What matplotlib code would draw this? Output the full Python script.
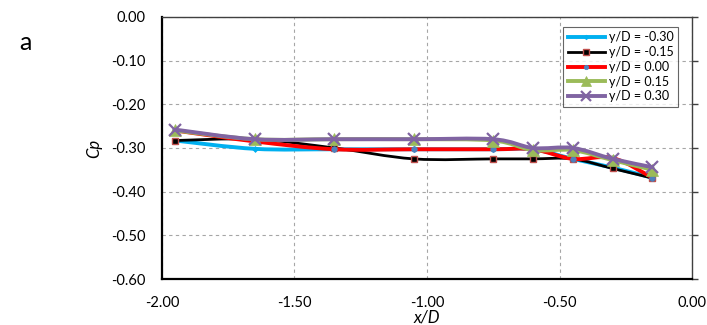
import numpy as np
import matplotlib
matplotlib.use("Agg")
import matplotlib.pyplot as plt
from matplotlib.path import Path
from matplotlib.patches import PathPatch
from matplotlib.lines import Line2D

plt.rcParams['font.family'] = ['Lato', 'DejaVu Sans']

# x/D stations
x_d = [-1.95, -1.65, -1.35, -1.05, -0.75, -0.60, -0.45, -0.30, -0.15]

# Cp for each y/D line
cp_m030 = [-0.283, -0.302, -0.303, -0.303, -0.303, -0.303, -0.325, -0.345, -0.368]
cp_m015 = [-0.283, -0.280, -0.300, -0.325, -0.325, -0.325, -0.325, -0.347, -0.369]
cp_000 = [-0.260, -0.285, -0.303, -0.303, -0.303, -0.303, -0.325, -0.323, -0.368]
cp_015 = [-0.260, -0.280, -0.280, -0.280, -0.283, -0.305, -0.305, -0.328, -0.350]
cp_030 = [-0.258, -0.280, -0.280, -0.280, -0.280, -0.300, -0.300, -0.325, -0.344]

labels = ['y/D = -0.30', 'y/D = -0.15', 'y/D = 0.00', 'y/D = 0.15', 'y/D = 0.30']
x_ticks = [-2.0, -1.5, -1.0, -0.5, 0.0]
y_ticks = [0.0, -0.1, -0.2, -0.3, -0.4, -0.5, -0.6]


def smooth_path(xs, ys):
    # excel-like smoothed line: catmull-rom turned into cubic bezier segments
    pts = np.column_stack([xs, ys])
    verts = [pts[0]]
    codes = [Path.MOVETO]
    n = len(pts)
    for i in range(n - 1):
        p0 = pts[i - 1] if i > 0 else pts[i]
        p1 = pts[i]
        p2 = pts[i + 1]
        p3 = pts[i + 2] if i + 2 < n else pts[i + 1]
        c1 = p1 + (p2 - p0) / 6.0
        c2 = p2 - (p3 - p1) / 6.0
        verts += [c1, c2, p2]
        codes += [Path.CURVE4] * 3
    return Path(verts, codes)


styles = [
    dict(color='#00B0F0', marker='D', ms=3, mfc='#00B0F0', mec='#00B0F0', mew=0.5),
    dict(color='#000000', marker='s', ms=5, mfc='#000000', mec='#C0504D', mew=1.0),
    dict(color='#FF0000', marker='o', ms=4, mfc='#4F81BD', mec='#4F81BD', mew=0.5),
    dict(color='#9BBB59', marker='^', ms=9, mfc='#9BBB59', mec='#9BBB59', mew=0.5),
    dict(color='#8064A2', marker='x', ms=9, mfc='#8064A2', mec='#8064A2', mew=1.6),
]
series = [cp_m030, cp_m015, cp_000, cp_015, cp_030]

fig = plt.figure(figsize=(7.07, 3.25), dpi=100)
ax = fig.add_axes([0.229, 0.1415, 0.750, 0.8065])

handles = []
for k, (vals, st) in enumerate(zip(series, styles)):
    lw = 2.0 if k == 1 else 2.8
    patch = PathPatch(smooth_path(x_d, vals), facecolor='none', edgecolor=st['color'],
                      lw=lw, zorder=2 + k, capstyle='round', joinstyle='round')
    ax.add_patch(patch)
    ax.plot(x_d, vals, ls='none', marker=st['marker'], ms=st['ms'], mfc=st['mfc'],
            mec=st['mec'], mew=st['mew'], zorder=2.5 + k)
    handles.append(Line2D([], [], color=st['color'], lw=lw, marker=st['marker'],
                          ms=st['ms'] * 0.8, mfc=st['mfc'], mec=st['mec'], mew=st['mew']))

ax.set_xlim(-2.0, 0.0)
ax.set_ylim(-0.6, 0.0)
ax.set_xticks(x_ticks)
ax.set_yticks(y_ticks)
ax.set_xticklabels(['%.2f' % v for v in x_ticks], fontsize=10.5)
ax.set_yticklabels(['%.2f' % v for v in y_ticks], fontsize=10.5)
ax.tick_params(axis='x', length=0, pad=12)
ax.tick_params(axis='y', left=False, right=True, labelleft=True, direction='out',
               length=4, width=1.0, color='#404040', pad=8)
ax.grid(True, color='#A6A6A6', ls=(0, (3, 3)), lw=0.8)

for side in ['left', 'bottom']:
    ax.spines[side].set_linewidth(1.6)
    ax.spines[side].set_color('#000000')
for side in ['top', 'right']:
    ax.spines[side].set_linewidth(1.0)
    ax.spines[side].set_color('#404040')

ax.set_xlabel('x/D', fontsize=12, style='italic', labelpad=0)
ax.set_ylabel('Cp', fontsize=12, style='italic', labelpad=6)

leg = ax.legend(handles, labels, loc='upper right', bbox_to_anchor=(0.985, 0.985),
                fontsize=9, frameon=True, fancybox=False, handlelength=3.0,
                handletextpad=0.3, borderpad=0.35, labelspacing=0.22)
leg.get_frame().set_edgecolor('#404040')
leg.get_frame().set_linewidth(0.8)

fig.text(0.027, 0.845, 'a', fontsize=18)

fig.savefig('out.png', dpi=100)
